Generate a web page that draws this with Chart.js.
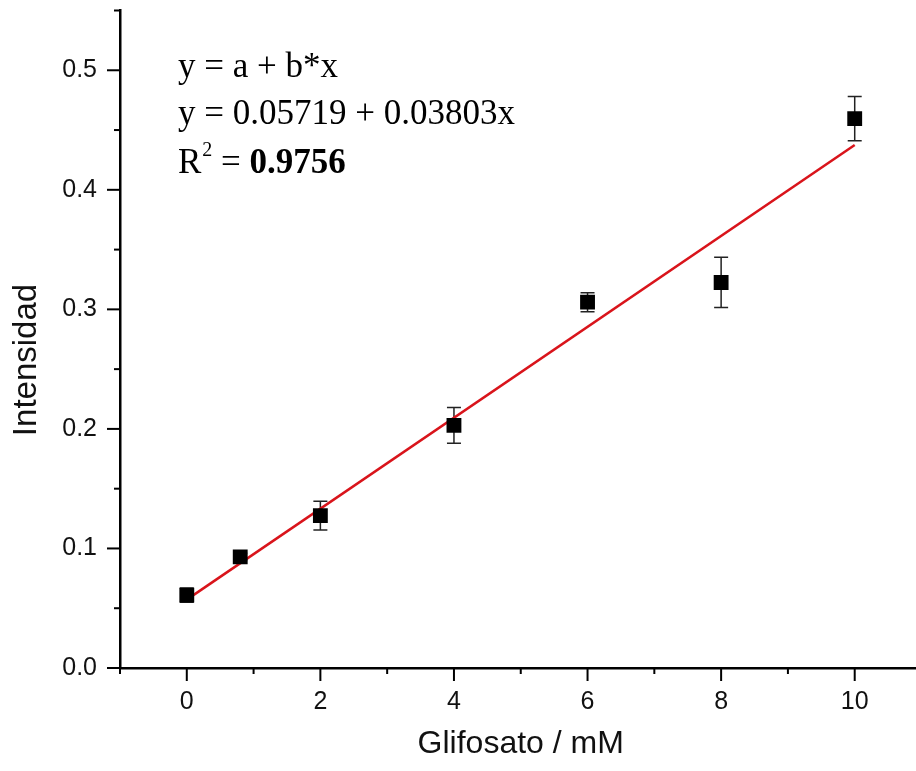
<!DOCTYPE html>
<html>
<head>
<meta charset="utf-8">
<script src="https://cdn.jsdelivr.net/npm/chart.js@4"></script>
<style>
  html, body { margin: 0; padding: 0; background: #fff; overflow: hidden; }
  canvas { display: block; }
</style>
</head>
<body>
<canvas id="chart" width="932" height="771"></canvas>
<script>
// Glifosato concentration (mM) and measured intensity
const glifosato = [0, 0.8, 2, 4, 6, 8, 10];
const intensidad = [0.061, 0.093, 0.1275, 0.203, 0.306, 0.3225, 0.4595];
const errores = [0.006, 0.003, 0.012, 0.015, 0.008, 0.021, 0.0185];

// linear fit line, end points
const ajusteX = [0, 10];
const ajusteY = [0.0572, 0.4375];

const ecuacion = ['y = a + b*x', 'y = 0.05719 + 0.03803x'];
const r2Valor = '0.9756';
const tituloY = 'Intensidad';

const xMajor = [0, 2, 4, 6, 8, 10];

const serif = '"Liberation Serif", "Times New Roman", serif';
const sans = 'Arial, "Liberation Sans", sans-serif';

// draws major / minor tick marks on both axes and the error bars
const ejesPlugin = {
  id: 'ejes',
  beforeDatasetsDraw(chart) {
    const ctx = chart.ctx;
    const x = chart.scales.x, y = chart.scales.y;
    ctx.save();
    ctx.strokeStyle = '#222';
    ctx.lineWidth = 1.5;
    glifosato.forEach((g, i) => {
      const px = x.getPixelForValue(g);
      const top = y.getPixelForValue(intensidad[i] + errores[i]);
      const bot = y.getPixelForValue(intensidad[i] - errores[i]);
      ctx.beginPath();
      ctx.moveTo(px, top); ctx.lineTo(px, bot);
      ctx.moveTo(px - 7, top); ctx.lineTo(px + 7, top);
      ctx.moveTo(px - 7, bot); ctx.lineTo(px + 7, bot);
      ctx.stroke();
    });
    ctx.restore();
  },
  afterDraw(chart) {
    const ctx = chart.ctx;
    const x = chart.scales.x, y = chart.scales.y;
    const area = chart.chartArea;
    ctx.save();
    ctx.strokeStyle = '#000';
    ctx.lineWidth = 2;
    x.ticks.forEach(t => {
      const px = x.getPixelForValue(t.value);
      const len = xMajor.includes(Math.round(t.value)) ? 13 : 6;
      ctx.beginPath();
      ctx.moveTo(px, area.bottom); ctx.lineTo(px, area.bottom + len);
      ctx.stroke();
    });
    y.ticks.forEach(t => {
      const py = y.getPixelForValue(t.value);
      const len = Math.round(t.value * 100) % 10 === 0 ? 13 : 6;
      ctx.beginPath();
      ctx.moveTo(area.left, py); ctx.lineTo(area.left - len, py);
      ctx.stroke();
    });

    // y axis title, sits a bit below the middle in the original
    ctx.save();
    ctx.translate(27, 360);
    ctx.rotate(-Math.PI / 2);
    ctx.fillStyle = '#111';
    ctx.font = '33px ' + sans;
    ctx.textAlign = 'center';
    ctx.textBaseline = 'middle';
    ctx.fillText(tituloY, 0, 0);
    ctx.restore();

    // equation box
    const x0 = 178;
    ctx.fillStyle = '#000';
    ctx.textBaseline = 'alphabetic';
    ctx.textAlign = 'left';
    ctx.font = '35px ' + serif;
    ctx.fillText(ecuacion[0], x0, 77);
    ctx.fillText(ecuacion[1], x0, 124);
    ctx.fillText('R', x0, 173);
    const rw = ctx.measureText('R').width;
    ctx.font = '20px ' + serif;
    ctx.fillText('2', x0 + rw + 1, 156);
    const sw = ctx.measureText('2').width;
    ctx.font = '35px ' + serif;
    const eq = ' = ';
    ctx.fillText(eq, x0 + rw + sw + 1, 173);
    const ew = ctx.measureText(eq).width;
    ctx.font = 'bold 35px ' + serif;
    ctx.fillText(r2Valor, x0 + rw + sw + 1 + ew, 173);
    ctx.restore();
  }
};

new Chart(document.getElementById('chart'), {
  type: 'scatter',
  data: {
    datasets: [
      {
        label: 'Ajuste',
        type: 'line',
        data: ajusteX.map((v, i) => ({ x: v, y: ajusteY[i] })),
        borderColor: '#d9141b',
        borderWidth: 2.5,
        pointRadius: 0,
        fill: false,
        order: 2
      },
      {
        label: 'Intensidad',
        data: glifosato.map((v, i) => ({ x: v, y: intensidad[i] })),
        pointStyle: 'rect',
        pointRadius: 10.5,
        pointHoverRadius: 10.5,
        backgroundColor: '#000',
        borderColor: '#000',
        borderWidth: 0,
        order: 1
      }
    ]
  },
  options: {
    responsive: false,
    animation: false,
    devicePixelRatio: 1,
    layout: { padding: { top: 8, right: 0, left: 0, bottom: 0 } },
    plugins: {
      legend: { display: false },
      tooltip: { enabled: false }
    },
    scales: {
      x: {
        type: 'linear',
        min: -1,
        max: 11,
        afterFit: s => {
          s.height = 103;
          s.paddingLeft = 0;
          s.paddingRight = 0;
        },
        border: { display: true, color: '#000', width: 2.5 },
        grid: { display: false, drawTicks: true, tickLength: 13 },
        ticks: {
          stepSize: 1,
          padding: 6,
          color: '#111',
          font: { family: sans, size: 25 },
          maxRotation: 0,
          autoSkip: false,
          callback: v => (xMajor.includes(v) ? String(v) : '')
        },
        title: {
          display: true,
          text: 'Glifosato / mM',
          color: '#111',
          font: { family: sans, size: 32 },
          padding: { top: 8, bottom: 8 }
        }
      },
      y: {
        type: 'linear',
        min: 0,
        max: 0.55,
        afterFit: s => {
          s.width = 120;
          s.paddingTop = 0;
          s.paddingBottom = 0;
        },
        border: { display: true, color: '#000', width: 2.5 },
        grid: { display: false, drawTicks: true, tickLength: 13 },
        ticks: {
          stepSize: 0.05,
          padding: 10,
          color: '#111',
          font: { family: sans, size: 25 },
          autoSkip: false,
          callback: v => (Math.round(v * 100) % 10 === 0 ? v.toFixed(1) : '')
        },
        title: { display: false }
      }
    }
  },
  plugins: [ejesPlugin]
});
</script>
</body>
</html>
